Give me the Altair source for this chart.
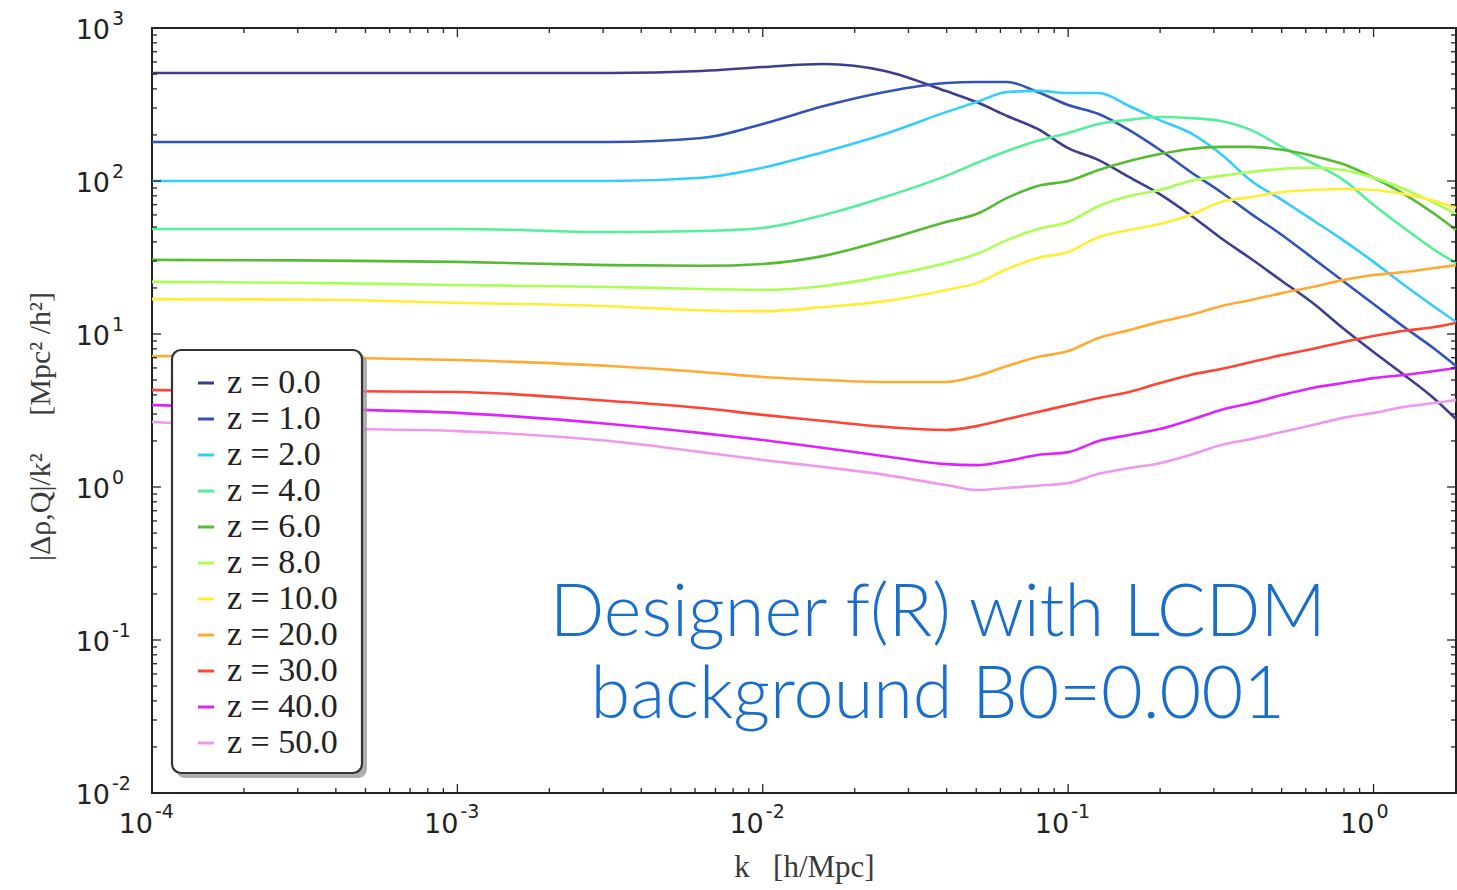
import altair as alt
import pandas as pd

# ---------------- data ----------------
K = [1e-4, 3.16e-4, 1e-3, 3.16e-3, 6.31e-3, 1e-2, 1.585e-2, 2.512e-2, 3.981e-2,
     5.012e-2, 6.31e-2, 7.943e-2, 0.1, 0.1259, 0.1585, 0.1995, 0.2512, 0.3162,
     0.3981, 0.5012, 0.631, 0.7943, 1.0, 1.259, 1.585, 1.862]

SERIES = ["z = 0.0", "z = 1.0", "z = 2.0", "z = 4.0", "z = 6.0", "z = 8.0",
          "z = 10.0", "z = 20.0", "z = 30.0", "z = 40.0", "z = 50.0"]
COLORS = ["#3d3d8f", "#3352b8", "#33ccff", "#55ee99", "#55bb33", "#aaff55",
          "#ffee33", "#ffaa33", "#ff4433", "#dd22ff", "#ee99ee"]

Z0 = [508, 508, 508, 508, 524, 556, 582, 524, 387, 328, 266, 219, 164, 137, 106,
      82.2, 60.0, 42.4, 30.9, 22.2, 16.0, 10.9, 7.62, 5.40, 3.76, 2.78]
Z1 = [180, 180, 180, 180, 191, 236, 309, 382, 437, 444, 444, 382, 314, 274, 215,
      160, 115, 84.8, 60.8, 44.4, 31.4, 22.2, 15.7, 11.1, 7.98, 6.18]
Z2 = [100, 100, 100, 100, 105, 122, 155, 203, 282, 328, 382, 388, 376, 376, 309,
      250, 206, 150, 100, 75.2, 55.6, 41.1, 29.6, 20.9, 15.0, 12.0]
Z4 = [48.6, 48.6, 48.6, 46.4, 47.1, 49.3, 60, 78.6, 108, 131, 157, 183, 206, 236,
      251, 262, 258, 247, 215, 167, 131, 102, 69.7, 49.3, 35.4, 29.1]
Z6 = [30.5, 30.3, 29.6, 28.2, 27.9, 28.7, 32.4, 41.1, 54, 60.8, 77.5, 92.8, 100,
      118, 135, 150, 162, 167, 167, 160, 146, 129, 105, 82.2, 60.8, 47.8]
Z8 = [21.9, 21.6, 20.9, 20.3, 19.7, 19.4, 20.6, 23.9, 29.1, 33.3, 41.1, 48.5, 54,
      68.7, 79.8, 87.4, 100, 108, 115, 120, 122, 118, 105, 88.7, 71.8, 60.8]
Z10 = [16.9, 16.8, 16.0, 15.2, 14.3, 14.1, 15.0, 16.4, 19.4, 21.5, 26.6, 31.4,
       34.4, 43, 47.9, 52.4, 60, 72.9, 78.6, 84.8, 87.4, 88.7, 87.4, 82.2, 74, 66.7]
Z20 = [7.18, 7.08, 6.76, 6.18, 5.65, 5.24, 5.00, 4.86, 4.86, 5.31, 6.18, 7.07,
       7.74, 9.42, 10.6, 12.0, 13.3, 15.2, 16.7, 18.5, 20.3, 22.5, 24.3, 25.4, 27.0, 28.2]
Z30 = [4.30, 4.24, 4.18, 3.65, 3.28, 2.96, 2.70, 2.47, 2.36, 2.50, 2.78, 3.09,
       3.43, 3.82, 4.18, 4.78, 5.40, 5.90, 6.56, 7.29, 7.98, 8.87, 9.70, 10.5, 11.1, 11.8]
Z40 = [3.43, 3.24, 3.05, 2.58, 2.25, 2.03, 1.80, 1.59, 1.41, 1.39, 1.48, 1.62,
       1.69, 2.00, 2.19, 2.39, 2.74, 3.19, 3.54, 3.99, 4.44, 4.78, 5.15, 5.40, 5.73, 6.0]
Z50 = [2.66, 2.43, 2.32, 2.00, 1.69, 1.50, 1.35, 1.20, 1.03, 0.955, 0.985, 1.02,
       1.06, 1.22, 1.33, 1.43, 1.62, 1.88, 2.06, 2.29, 2.54, 2.83, 3.05, 3.34, 3.54, 3.70]
VALUES = [Z0, Z1, Z2, Z4, Z6, Z8, Z10, Z20, Z30, Z40, Z50]

X_TICKS = [1e-4, 1e-3, 1e-2, 1e-1, 1.0]
X_TICK_BASE = ["10", "10", "10", "10", "10"]
X_TICK_EXP = ["-4", "-3", "-2", "-1", "0"]
Y_TICKS = [1e-2, 1e-1, 1.0, 10.0, 100.0, 1000.0]
Y_TICK_BASE = ["10", "10", "10", "10", "10", "10"]
Y_TICK_EXP = ["-2", "-1", "0", "1", "2", "3"]

X_DOMAIN = [1e-4, 1.862]
Y_DOMAIN = [1e-2, 1e3]

ANNOT_TEXT = ["Designer f(R) with LCDM", "background B0=0.001"]
ANNOT_K = [0.0374, 0.0374]
ANNOT_V = [0.106, 0.0309]

NB = "\u00a0"
X_TITLE = "k" + NB * 3 + "[h/Mpc]"
Y_TITLE = "|Δρ,Q|/k²" + NB * 5 + "[Mpc²" + NB + "/h²]"

# ---------------- build tables ----------------
rows = []
for name, vals in zip(SERIES, VALUES):
    for k, v in zip(K, vals):
        rows.append({"k": k, "v": v, "series": name})
df = pd.DataFrame(rows)


def minor_ticks(lo, hi):
    out = []
    e = -6
    while 10.0 ** e <= hi * 10:
        for m in range(2, 10):
            val = m * 10.0 ** e
            if lo < val < hi:
                out.append(val)
        e += 1
    return out


x_major = pd.DataFrame({"k": X_TICKS, "base": X_TICK_BASE, "exp": X_TICK_EXP})
x_minor = pd.DataFrame({"k": minor_ticks(*X_DOMAIN)})
y_major = pd.DataFrame({"v": Y_TICKS, "base": Y_TICK_BASE, "exp": Y_TICK_EXP})
y_minor = pd.DataFrame({"v": minor_ticks(*Y_DOMAIN)})

W, H = 1304, 765
xs = alt.Scale(type="log", domain=X_DOMAIN, nice=False)
ys = alt.Scale(type="log", domain=Y_DOMAIN, nice=False)

x_axis = alt.Axis(values=X_TICKS, labels=False, ticks=False, domain=False, grid=False,
                  title=X_TITLE, titleFont="Liberation Serif", titleFontSize=31,
                  titleFontWeight="normal", titleColor="#3a3a3a", titlePadding=59)
y_axis = alt.Axis(values=Y_TICKS, labels=False, ticks=False, domain=False, grid=False,
                  title=Y_TITLE, titleFont="Liberation Serif", titleFontSize=30,
                  titleFontWeight="normal", titleColor="#3a3a3a", titlePadding=97,
                  titleY=398)

lines = alt.Chart(df).mark_line(strokeWidth=2.6, interpolate="monotone").encode(
    x=alt.X("k:Q", scale=xs, axis=x_axis, title=X_TITLE),
    y=alt.Y("v:Q", scale=ys, axis=y_axis, title=Y_TITLE),
    color=alt.Color("series:N", scale=alt.Scale(domain=SERIES, range=COLORS),
                    sort=SERIES,
                    legend=alt.Legend(orient="none", legendX=37, legendY=338, title=None,
                                      symbolType="stroke", symbolStrokeWidth=3,
                                      symbolSize=256, labelFont="Liberation Serif",
                                      labelFontSize=34, labelColor="#222",
                                      rowPadding=2, padding=0, labelOffset=4,
                                      labelLimit=300)),
    detail="series:N",
)


def xrule(data, y1, y2):
    return alt.Chart(data).mark_rule(color="#222", strokeWidth=1.3).encode(
        x=alt.X("k:Q", scale=xs, title=X_TITLE), y=alt.value(y1), y2=alt.value(y2))


def yrule(data, x1, x2):
    return alt.Chart(data).mark_rule(color="#222", strokeWidth=1.3).encode(
        y=alt.Y("v:Q", scale=ys, title=Y_TITLE), x=alt.value(x1), x2=alt.value(x2))


ticks = [
    xrule(x_major[["k"]], H, H - 9), xrule(x_minor, H, H - 5),
    xrule(x_major[["k"]], 0, 9), xrule(x_minor, 0, 5),
    yrule(y_major[["v"]], 0, 9), yrule(y_minor, 0, 5),
    yrule(y_major[["v"]], W, W - 9), yrule(y_minor, W, W - 5),
]

LBL_FONT = "DejaVu Sans"
x_base = alt.Chart(x_major).mark_text(font=LBL_FONT, fontSize=27, color="#222",
                                      align="right", baseline="alphabetic", dx=1).encode(
    x=alt.X("k:Q", scale=xs, title=X_TITLE), y=alt.value(H + 40), text="base:N")
x_exp = alt.Chart(x_major).mark_text(font=LBL_FONT, fontSize=19, color="#222",
                                     align="left", baseline="alphabetic", dx=3).encode(
    x=alt.X("k:Q", scale=xs, title=X_TITLE), y=alt.value(H + 25), text="exp:N")
y_base = alt.Chart(y_major).mark_text(font=LBL_FONT, fontSize=27, color="#222",
                                      align="right", baseline="alphabetic", dy=11).encode(
    y=alt.Y("v:Q", scale=ys, title=Y_TITLE), x=alt.value(-42), text="base:N")
y_exp = alt.Chart(y_major).mark_text(font=LBL_FONT, fontSize=19, color="#222",
                                     align="left", baseline="alphabetic", dy=-3).encode(
    y=alt.Y("v:Q", scale=ys, title=Y_TITLE), x=alt.value(-40), text="exp:N")

dummy = pd.DataFrame({"a": [0]})
shadow = alt.Chart(dummy).mark_rect(cornerRadius=9, color="#9a9a9a", opacity=0.8).encode(
    x=alt.value(24), x2=alt.value(215), y=alt.value(326), y2=alt.value(750))
box = alt.Chart(dummy).mark_rect(cornerRadius=9, fill="white", stroke="#333",
                                 strokeWidth=2.2).encode(
    x=alt.value(20), x2=alt.value(210), y=alt.value(322), y2=alt.value(745))

annot_df = pd.DataFrame({"k": ANNOT_K, "v": ANNOT_V, "text": ANNOT_TEXT})
annot = alt.Chart(annot_df).mark_text(font="Lato", fontSize=72, fontWeight=300,
                                      color="#1a6ecb", align="center",
                                      baseline="alphabetic").encode(
    x=alt.X("k:Q", scale=xs, title=X_TITLE),
    y=alt.Y("v:Q", scale=ys, title=Y_TITLE),
    text="text:N")

chart = alt.layer(lines, *ticks, x_base, x_exp, y_base, y_exp, shadow, box, annot).properties(
    width=W, height=H,
    background="white",
    autosize=alt.AutoSizeParams(type="none"),
    padding={"left": 152, "top": 28, "right": 1, "bottom": 97},
).configure_view(stroke="#222", strokeWidth=2)

chart.save("out.html", embed_options={"renderer": "svg", "actions": False})
